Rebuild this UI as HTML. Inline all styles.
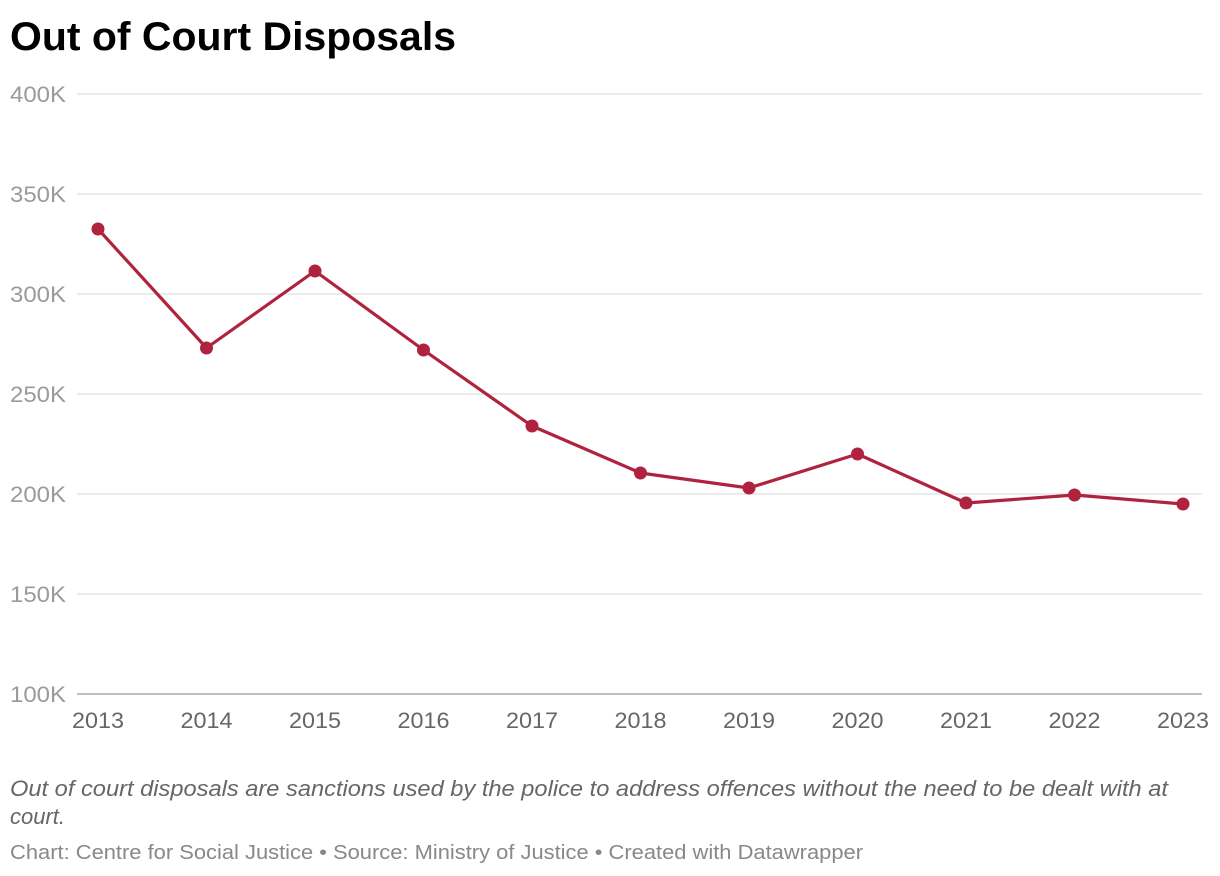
<!DOCTYPE html>
<html><head><meta charset="utf-8"><style>
body{margin:0;background:#fff;font-family:"Liberation Sans",sans-serif;}
#wrap{position:relative;width:1220px;height:876px;overflow:hidden;}
</style></head><body>
<div id="wrap">
<svg id="chart" width="1220" height="876">
<text x="10" y="50" font-size="40" font-weight="bold" fill="#000" textLength="446" lengthAdjust="spacingAndGlyphs">Out of Court Disposals</text>
<g id="grid"></g>
<g id="xaxis"></g>
<g id="series"></g>
<text x="10" y="796" font-size="22" font-style="italic" fill="#666" textLength="1158" lengthAdjust="spacingAndGlyphs">Out of court disposals are sanctions used by the police to address offences without the need to be dealt with at</text>
<text x="10" y="824" font-size="22" font-style="italic" fill="#666">court.</text>
<text x="10" y="859" font-size="20" fill="#888" textLength="853" lengthAdjust="spacingAndGlyphs">Chart: Centre for Social Justice • Source: Ministry of Justice • Created with Datawrapper</text>
</svg>
</div>
<script>
const years=[2013,2014,2015,2016,2017,2018,2019,2020,2021,2022,2023];
const values=[332.5,273,311.5,272,234,210.5,203,220,195.5,199.5,195];
const yTicks=[100,150,200,250,300,350,400];
const yTickLabels=["100K","150K","200K","250K","300K","350K","400K"];
const NS="http://www.w3.org/2000/svg";
function y(v){return 694-(v-100)*2;}
function x(i){return 98+i*(1183-98)/(years.length-1);}
function mk(t,a,p){const e=document.createElementNS(NS,t);for(const k in a)e.setAttribute(k,a[k]);p.appendChild(e);return e;}
const grid=document.getElementById('grid');
yTicks.forEach((v,i)=>{
 const l=mk('line',{x1:77,x2:1202,y1:y(v),y2:y(v),stroke:i==0?'#aaa':'#e0e0e0','stroke-width':i==0?1.5:1.3},grid);
 
 
 const t=mk('text',{x:10,y:y(v)+8,'font-size':22,fill:'#9a9a9a',textLength:56,lengthAdjust:'spacingAndGlyphs'},grid);
 t.textContent=yTickLabels[i];
 
 
});
const xa=document.getElementById('xaxis');
years.forEach((yr,i)=>{
 const t=mk('text',{x:x(i),y:728,'font-size':22,fill:'#666','text-anchor':'middle',textLength:52,lengthAdjust:'spacingAndGlyphs'},xa);
 t.textContent=yr;
 
 
});
const s=document.getElementById('series');
const p=mk('polyline',{points:values.map((v,i)=>x(i)+','+y(v)).join(' '),fill:'none',stroke:'#b0233f','stroke-width':3.2,'stroke-linejoin':'round'},s);


values.forEach((v,i)=>{
 const c=mk('circle',{cx:x(i),cy:y(v),r:6.5,fill:'#b0233f'},s);
 
 
});
</script>
</body></html>
